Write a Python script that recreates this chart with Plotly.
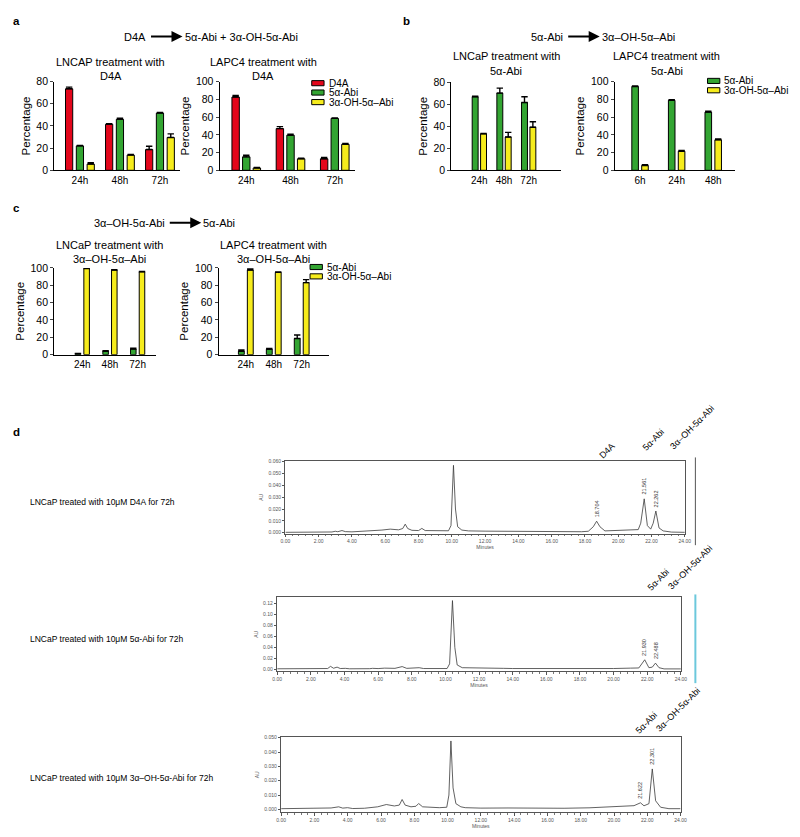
import plotly.graph_objects as go

W, H = 800, 837
FONT = "Liberation Sans, Arial, sans-serif"

# ---------------- data ----------------
names3 = ["D4A", "5α-Abi", "3α-OH-5α–Abi"]
names2 = ["5α-Abi", "3α-OH-5α–Abi"]

a_time = ["24h", "48h", "72h"]
a_lncap_d4a = [73.5, 41.5, 18.7]
a_lncap_d4a_err = [1.5, 0.6, 3.0]
a_lncap_5a = [22.0, 46.0, 51.6]
a_lncap_5a_err = [0.5, 1.0, 0.6]
a_lncap_3a = [5.6, 13.7, 29.6]
a_lncap_3a_err = [1.2, 0.6, 3.3]

a_lapc4_d4a = [82.6, 47.0, 13.0]
a_lapc4_d4a_err = [1.8, 2.2, 1.5]
a_lapc4_5a = [15.2, 39.6, 58.5]
a_lapc4_5a_err = [1.8, 1.2, 0.5]
a_lapc4_3a = [2.6, 13.0, 29.3]
a_lapc4_3a_err = [0.5, 0.6, 1.0]

b_lncap_time = ["24h", "48h", "72h"]
b_lncap_5a = [66.8, 70.1, 61.5]
b_lncap_5a_err = [0.4, 4.5, 5.3]
b_lncap_3a = [33.1, 30.2, 39.1]
b_lncap_3a_err = [0.4, 4.2, 5.0]

b_lapc4_time = ["6h", "24h", "48h"]
b_lapc4_5a = [94.5, 78.9, 65.6]
b_lapc4_5a_err = [0.6, 0.8, 1.0]
b_lapc4_3a = [5.5, 21.5, 34.4]
b_lapc4_3a_err = [0.8, 0.8, 1.0]

c_time = ["24h", "48h", "72h"]
c_lncap_5a = [1.0, 3.8, 6.5]
c_lncap_5a_err = [0.4, 0.6, 0.8]
c_lncap_3a = [99.3, 97.5, 95.5]
c_lncap_3a_err = [0.5, 0.4, 0.5]
c_lapc4_5a = [3.8, 6.2, 18.6]
c_lapc4_5a_err = [1.5, 0.8, 4.0]
c_lapc4_3a = [97.5, 94.8, 83.0]
c_lapc4_3a_err = [1.2, 0.5, 3.5]

# chromatograms (time in minutes, absorbance AU)
chrom1_t = [0.0, 1.0, 2.0, 2.8, 3.0, 3.15, 3.4, 3.6, 4.0, 5.0, 5.8, 6.3, 6.8, 7.05, 7.2, 7.35, 7.6, 8.0, 8.2, 8.4,
            9.0, 9.8, 9.95, 10.1, 10.22, 10.35, 10.6, 10.8, 11.0, 12.0, 14.0, 16.0, 17.8, 18.2, 18.5, 18.7, 18.9,
            19.2, 20.0, 20.8, 21.2, 21.35, 21.56, 21.75, 21.95, 22.1, 22.26, 22.45, 22.7, 23.2, 24.0]
chrom1_au = [0.0003, 0.0003, 0.0004, 0.0006, 0.0012, 0.0008, 0.0018, 0.0009, 0.0007, 0.0012, 0.0022, 0.0030,
             0.0024, 0.0035, 0.0072, 0.0035, 0.0020, 0.0018, 0.0036, 0.0018, 0.0015, 0.0016, 0.0060, 0.0569,
             0.0200, 0.0050, 0.0022, 0.0018, 0.0015, 0.0013, 0.0010, 0.0008, 0.0008, 0.0012, 0.0050, 0.0097,
             0.0050, 0.0015, 0.0018, 0.0024, 0.0026, 0.0080, 0.0286, 0.0060, 0.0030, 0.0080, 0.0183, 0.0040,
             0.0015, 0.0005, 0.0003]
chrom1_peaks_t = [18.7, 21.56, 22.26]
chrom1_peaks_au = [0.0097, 0.0286, 0.0183]
chrom1_peak_labels = ["18.704", "21.561", "22.262"]

chrom2_t = [0.0, 2.5, 3.0, 3.17, 3.35, 3.56, 3.75, 4.05, 4.3, 5.5, 5.67, 6.0, 6.39, 7.0, 7.43, 7.7, 8.44, 8.7,
            10.1, 10.25, 10.42, 10.56, 10.7, 11.0, 12.0, 13.47, 14.0, 16.0, 18.0, 20.0, 21.0, 21.5, 21.85,
            22.1, 22.3, 22.49, 22.7, 23.0, 24.0]
chrom2_au = [0.001, 0.001, 0.0015, 0.0054, 0.002, 0.004, 0.0015, 0.0018, 0.001, 0.0012, 0.0018, 0.0014, 0.0022,
             0.0018, 0.005, 0.0018, 0.003, 0.0015, 0.0015, 0.01, 0.1249, 0.04, 0.008, 0.003, 0.002, 0.0018,
             0.0015, 0.0012, 0.0012, 0.0015, 0.0022, 0.0025, 0.0174, 0.003, 0.004, 0.0113, 0.003, 0.0008, 0.0008]
chrom2_peaks_t = [21.85, 22.49]
chrom2_peaks_au = [0.0174, 0.0113]
chrom2_peak_labels = ["21.930", "22.488"]

chrom3_t = [0.0, 2.5, 3.0, 3.46, 3.7, 3.99, 4.3, 5.0, 5.8, 6.32, 6.8, 7.1, 7.27, 7.45, 7.8, 8.1, 8.26, 8.5, 9.5,
            9.95, 10.08, 10.2, 10.33, 10.5, 10.8, 11.06, 12.0, 13.63, 15.0, 17.0, 18.5, 19.5, 20.5, 21.2, 21.59,
            21.8, 22.1, 22.3, 22.5, 22.8, 23.3, 24.0]
chrom3_au = [0.0005, 0.0006, 0.001, 0.0018, 0.0009, 0.0012, 0.0006, 0.0008, 0.0018, 0.0034, 0.0024, 0.003,
             0.0069, 0.003, 0.0018, 0.0022, 0.0041, 0.0018, 0.0012, 0.0015, 0.01, 0.0477, 0.015, 0.004, 0.0018,
             0.0012, 0.0009, 0.001, 0.0008, 0.0008, 0.0011, 0.0016, 0.0024, 0.0026, 0.0046, 0.0025, 0.004,
             0.0282, 0.006, 0.0015, 0.0005, 0.0005]
chrom3_peaks_t = [21.59, 22.3]
chrom3_peaks_au = [0.0046, 0.0282]
chrom3_peak_labels = ["21.622", "22.301"]

# ---------------- helpers ----------------
def fx(p):
    return p / W


def fy(p):
    return 1 - p / H


RED, GREEN, YELLOW = "#e3061b", "#33a532", "#f6ec1c"

fig = go.Figure()
layout = dict(
    width=W, height=H, margin=dict(l=0, r=0, t=0, b=0),
    paper_bgcolor="white", plot_bgcolor="white",
    font=dict(family=FONT, color="black"),
    barmode="overlay", showlegend=False,
)
annotations = []
shapes = []

bar_panels = [
    dict(cats=a_time, vals=[a_lncap_d4a, a_lncap_5a, a_lncap_3a],
         errs=[a_lncap_d4a_err, a_lncap_5a_err, a_lncap_3a_err], colors=[RED, GREEN, YELLOW],
         xd=(50, 177), yd=(76.7, 166.7), ymax=80, xr=[-0.64, 2.49], offs=[-0.27, 0, 0.27], w=0.18),
    dict(cats=a_time, vals=[a_lapc4_d4a, a_lapc4_5a, a_lapc4_3a],
         errs=[a_lapc4_d4a_err, a_lapc4_5a_err, a_lapc4_3a_err], colors=[RED, GREEN, YELLOW],
         xd=(217.7, 355), yd=(76.7, 166.7), ymax=100, xr=[-0.6, 2.46], offs=[-0.24, 0, 0.24], w=0.167),
    dict(cats=b_lncap_time, vals=[b_lncap_5a, b_lncap_3a],
         errs=[b_lncap_5a_err, b_lncap_3a_err], colors=[GREEN, YELLOW],
         xd=(452.7, 564), yd=(77.3, 166.7), ymax=80, xr=[-1.13, 3.32], offs=[-0.17, 0.17], w=0.24),
    dict(cats=b_lapc4_time, vals=[b_lapc4_5a, b_lapc4_3a],
         errs=[b_lapc4_5a_err, b_lapc4_3a_err], colors=[GREEN, YELLOW],
         xd=(618.3, 740), yd=(76.7, 166.7), ymax=100, xr=[-0.69, 2.59], offs=[-0.135, 0.135], w=0.18),
    dict(cats=c_time, vals=[c_lncap_5a, c_lncap_3a],
         errs=[c_lncap_5a_err, c_lncap_3a_err], colors=[GREEN, YELLOW],
         xd=(50, 153.3), yd=(265.7, 353.7), ymax=100, xr=[-1.01, 2.67], offs=[-0.157, 0.157], w=0.2),
    dict(cats=c_time, vals=[c_lapc4_5a, c_lapc4_3a],
         errs=[c_lapc4_5a_err, c_lapc4_3a_err], colors=[GREEN, YELLOW],
         xd=(216.7, 328.3), yd=(265.7, 353.7), ymax=100, xr=[-0.97, 2.97], offs=[-0.16, 0.16], w=0.21),
]

for i, p in enumerate(bar_panels):
    k = i + 1
    xa = "x" if k == 1 else f"x{k}"
    ya = "y" if k == 1 else f"y{k}"
    for vals, errs, col, off in zip(p["vals"], p["errs"], p["colors"], p["offs"]):
        fig.add_trace(go.Bar(
            x=p["cats"], y=vals, xaxis=xa, yaxis=ya,
            offset=off - p["w"] / 2, width=p["w"],
            marker=dict(color=col, line=dict(color="black", width=1)),
            error_y=dict(type="data", array=errs, arrayminus=[0] * len(errs), symmetric=False,
                         color="black", thickness=1.4, width=3.2),
        ))
    layout["xaxis" if k == 1 else f"xaxis{k}"] = dict(
        domain=[fx(p["xd"][0]), fx(p["xd"][1])], anchor=ya, type="category",
        range=p["xr"], showline=True, linecolor="black", linewidth=1.4, ticks="",
        tickfont=dict(size=10), showgrid=False, zeroline=False, fixedrange=True,
    )
    layout["yaxis" if k == 1 else f"yaxis{k}"] = dict(
        domain=[fy(p["yd"][1]), fy(p["yd"][0])], anchor=xa, range=[0, p["ymax"]], dtick=20,
        showline=True, linecolor="black", linewidth=1.4, ticks="outside", ticklen=3, tickwidth=1.3,
        tickfont=dict(size=10.5), showgrid=False, zeroline=False,
        title=dict(text="Percentage", font=dict(size=11.5), standoff=3),
    )

# ---------------- chromatograms ----------------
chroms = [
    dict(t=chrom1_t, au=chrom1_au, pt=chrom1_peaks_t, pa=chrom1_peaks_au, pl=chrom1_peak_labels,
         xd=(284.3, 689.3), yd=(461.7, 535.3), yr=[-0.0008, 0.0605], dt=0.01, fmt=".3f"),
    dict(t=chrom2_t, au=chrom2_au, pt=chrom2_peaks_t, pa=chrom2_peaks_au, pl=chrom2_peak_labels,
         xd=(276, 685.3), yd=(600, 675), yr=[-0.0036, 0.1307], dt=0.02, fmt=".2f"),
    dict(t=chrom3_t, au=chrom3_au, pt=chrom3_peaks_t, pa=chrom3_peaks_au, pl=chrom3_peak_labels,
         xd=(280, 685), yd=(742, 818), yr=[-0.002, 0.0502], dt=0.01, fmt=".3f"),
]
for j, c in enumerate(chroms):
    k = 7 + j
    xa, ya = f"x{k}", f"y{k}"
    fig.add_trace(go.Scatter(x=c["t"], y=c["au"], xaxis=xa, yaxis=ya, mode="lines",
                             line=dict(color="#3a3a3a", width=0.8)))
    for t, a, lab in zip(c["pt"], c["pa"], c["pl"]):
        annotations.append(dict(x=t, y=a, xref=xa, yref=ya, text=lab, showarrow=False,
                                textangle=-90, yanchor="bottom", xanchor="center", yshift=2,
                                font=dict(size=5.5, color="#333")))
    layout[f"xaxis{k}"] = dict(
        domain=[fx(c["xd"][0]), fx(c["xd"][1])], anchor=ya, range=[0, 24], dtick=2, tickformat=".2f",
        showline=True, mirror=True, linecolor="#555", linewidth=0.8, ticks="outside", ticklen=2.5,
        tickwidth=0.6, tickcolor="#555", tickfont=dict(size=5, color="#555"), showgrid=False, zeroline=False,
        minor=dict(dtick=0.4, ticks="outside", ticklen=1.5, tickwidth=0.5, tickcolor="#777"),
        title=dict(text="Minutes", font=dict(size=5, color="#555"), standoff=1),
    )
    layout[f"yaxis{k}"] = dict(
        domain=[fy(c["yd"][1]), fy(c["yd"][0])], anchor=xa, range=c["yr"], dtick=c["dt"],
        tickformat=c["fmt"], showline=True, mirror=True, linecolor="#555", linewidth=0.8,
        ticks="outside", ticklen=2.5, tickwidth=0.6, tickcolor="#555",
        tickfont=dict(size=5, color="#555"), showgrid=False, zeroline=False,
        title=dict(text="AU", font=dict(size=5, color="#555"), standoff=4),
    )

# ---------------- text / legends ----------------
def txt(x, y, s, size=11, **kw):
    d = dict(x=fx(x), y=fy(y), xref="paper", yref="paper", text=s, showarrow=False,
             xanchor="center", yanchor="middle",
             font=dict(size=size, family=FONT, color="black"))
    d.update(kw)
    annotations.append(d)


for lab, x, y in [("a", 6, 15), ("b", 402, 15), ("c", 6, 205), ("d", 6, 432)]:
    txt(x, y, f"<b>{lab}</b>", size=11.5, xanchor="left")

# reaction headers
def header(left, right, x_arrow0, x_arrow1, y):
    txt(x_arrow0 - 2, y, left, size=11, xanchor="right")
    txt(x_arrow1, y, right, size=11, xanchor="left")
    annotations.append(dict(x=fx(x_arrow1), y=fy(y), xref="paper", yref="paper", text="",
                            showarrow=True, ax=-(x_arrow1 - x_arrow0), ay=0, arrowhead=2,
                            arrowsize=1.1, arrowwidth=2, arrowcolor="black", standoff=0, startstandoff=0))


header("D4A", "5α-Abi + 3α-OH-5α-Abi", 147, 180, 31)
header("5α-Abi", "3α–OH-5α–Abi", 570, 603, 31)
header("3α–OH-5α-Abi", "5α-Abi", 166, 199, 220)

# subplot titles
for cx, y1, l1, l2 in [
    (107, 57, "LNCAP treatment with", "D4A"),
    (262, 57, "LAPC4 treatment with", "D4A"),
    (508, 51, "LNCaP treatment with", "5α-Abi"),
    (671, 51, "LAPC4 treatment with", "5α-Abi"),
    (106, 242, "LNCaP treatment with", "3α–OH-5α–Abi"),
    (272, 242, "LAPC4 treatment with", "3α–OH-5α–Abi"),
]:
    txt(cx, y1, l1, size=11)
    txt(cx, y1 + 14.5, l2, size=11)

# manual legends
def legend(x0, ys, labels, colors):
    for y, lab, col in zip(ys, labels, colors):
        shapes.append(dict(type="rect", xref="paper", yref="paper", x0=fx(x0), x1=fx(x0 + 12.5),
                           y0=fy(y + 2.6), y1=fy(y - 2.6), fillcolor=col,
                           line=dict(color="black", width=1)))
        txt(x0 + 15, y, lab, size=10, xanchor="left")


legend(311, [78.3, 87.8, 97.5], names3, [RED, GREEN, YELLOW])
legend(712.3, [76, 85.5], names2, [GREEN, YELLOW])
legend(309.3, [264.8, 274.3], names2, [GREEN, YELLOW])

# panel d side labels
txt(23.3, 503, "LNCaP treated with 10μM D4A for 72h", size=8.5, xanchor="left")
txt(23.3, 642, "LNCaP treated with 10μM 5α-Abi for 72h", size=8.5, xanchor="left")
txt(23.3, 783, "LNCaP treated with 10μM 3α–OH-5α-Abi for 72h", size=8.5, xanchor="left")

# compound labels above chromatograms (rotated)
for x, y, s in [(610, 451, "D4A"), (657, 440, "5α-Abi"), (697, 427, "3α–OH-5α-Abi"),
                (662, 582, "5α-Abi"), (695, 569, "3α–OH-5α-Abi"),
                (650, 727, "5α-Abi"), (682, 714, "3α–OH-5α-Abi")]:
    txt(x, y, s, size=9, textangle=-45)

# side bars next to chromatograms
shapes.append(dict(type="line", xref="paper", yref="paper", x0=fx(700), x1=fx(700), y0=fy(458), y1=fy(547),
                   line=dict(color="#555", width=1)))
shapes.append(dict(type="line", xref="paper", yref="paper", x0=fx(700), x1=fx(700), y0=fy(597), y1=fy(687),
                   line=dict(color="#6cc8dc", width=2)))

layout["annotations"] = annotations
layout["shapes"] = shapes
fig.update_layout(**layout)
fig.write_html("out.html", config={"displayModeBar": False},
               post_script="document.body.style.margin='0';document.body.style.overflow='hidden';")
